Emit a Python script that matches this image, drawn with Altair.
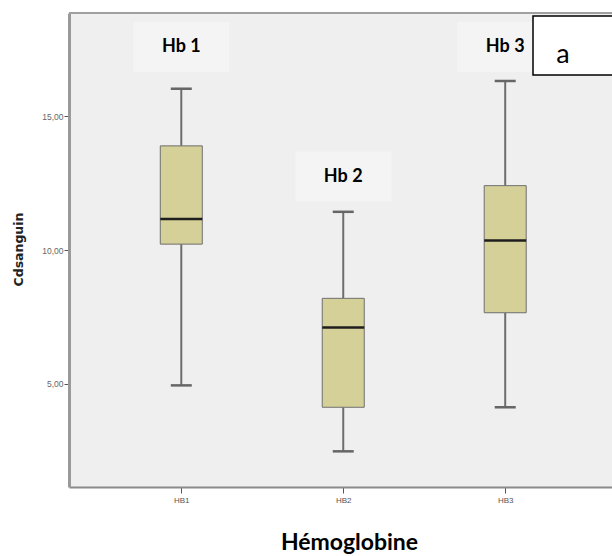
import altair as alt
import pandas as pd

# ---- data ----
groups = ["HB1", "HB2", "HB3"]
group_idx = [1, 2, 3]
whisker_low = [4.93, 2.46, 4.11]
q1 = [10.22, 4.11, 7.65]
median = [11.16, 7.10, 10.36]
q3 = [13.90, 8.19, 12.41]
whisker_high = [16.04, 11.43, 16.33]
label_text = ["Hb 1", "Hb 2", "Hb 3"]
label_y = [17.60, 12.75, 17.60]
panel_letter = ["a"]
y_ticks = [5, 10, 15]

df = pd.DataFrame({
    "idx": group_idx, "grp": groups, "lo": whisker_low, "q1": q1,
    "med": median, "q3": q3, "hi": whisker_high,
    "lab": label_text, "laby": label_y,
})

W, H = 543, 474
xdom = [0.3376, 3.6285]
ydom = [1.124, 18.876]

label_expr = "[" + ",".join(f"'{g}'" for g in groups) + "][datum.value - 1]"

x_enc = alt.X("idx:Q", scale=alt.Scale(domain=xdom, nice=False, zero=False),
              axis=alt.Axis(values=group_idx, labelExpr=label_expr, title="Hémoglobine",
                            grid=False, domainColor="#8a8a8a", domainWidth=2,
                            tickColor="#555555", tickSize=6, tickWidth=1,
                            labelFont="Liberation Sans", labelFontSize=8, labelColor="#555555",
                            labelPadding=3,
                            titleFont="Lato", titleFontSize=23, titleFontWeight="bold",
                            titleColor="#000000", titleX=280, titleY=55,
                            titleBaseline="middle", titleAlign="center"))
y_enc = alt.Y("lo:Q", scale=alt.Scale(domain=ydom, nice=False, zero=False),
              axis=alt.Axis(values=y_ticks,
                            labelExpr="replace(format(datum.value, '.2f'), '.', ',')",
                            title="Cdsanguin", grid=False, domainColor="#9a9a9a", domainWidth=3,
                            tickColor="#555555", tickSize=5, tickWidth=1,
                            labelFont="Liberation Sans", labelFontSize=8.5, labelColor="#666666",
                            labelPadding=1,
                            titleFont="DejaVu Sans", titleFontSize=12.5, titleFontWeight="bold",
                            titleColor="#222222", titleX=-51, titleY=236, titleAngle=-90,
                            titleBaseline="middle", titleAlign="center"))

base = alt.Chart(df)

whisk_low = base.mark_rule(color="#6d6d6d", strokeWidth=2).encode(x=x_enc, y=y_enc, y2="q1:Q")
whisk_high = base.mark_rule(color="#6d6d6d", strokeWidth=2).encode(x="idx:Q", y="q3:Q", y2="hi:Q")
box = base.mark_bar(width=42, color="#d4d098", stroke="#6f6f6f", strokeWidth=1).encode(
    x="idx:Q", y="q1:Q", y2="q3:Q")
med = base.mark_tick(orient="horizontal", size=42, thickness=2.5, color="#1e1e1e", opacity=1).encode(
    x="idx:Q", y="med:Q")
cap_lo = base.mark_tick(orient="horizontal", size=21, thickness=2.5, color="#666666", opacity=1).encode(
    x="idx:Q", y="lo:Q")
cap_hi = base.mark_tick(orient="horizontal", size=21, thickness=2.5, color="#666666", opacity=1).encode(
    x="idx:Q", y="hi:Q")

patch = base.mark_point(shape="M-1,-0.52H1V0.52H-1Z", size=9216, filled=True,
                        color="#f4f4f4", opacity=1, strokeWidth=0).encode(
    x="idx:Q", y="laby:Q")
labels = base.mark_text(font="Lato", fontSize=18, fontWeight="bold", color="#000000",
                        align="center", baseline="middle").encode(
    x="idx:Q", y="laby:Q", text="lab:N")

dummy = pd.DataFrame({"t": panel_letter})
top_rule = alt.Chart(dummy).mark_rule(color="#a0a0a0", strokeWidth=2).encode(
    x=alt.value(0), x2=alt.value(W + 5), y=alt.value(0))
letter_box = alt.Chart(dummy).mark_rect(fill="white", stroke="black", strokeWidth=1.5).encode(
    x=alt.value(464), x2=alt.value(W + 20), y=alt.value(3), y2=alt.value(62))
letter = alt.Chart(dummy).mark_text(font="Lato", fontSize=27, color="#000000",
                                    align="center", baseline="alphabetic").encode(
    x=alt.value(494), y=alt.value(50), text="t:N")

chart = alt.layer(
    patch, whisk_low, whisk_high, box, med, cap_lo, cap_hi, labels,
    top_rule, letter_box, letter
).properties(
    width=W, height=H,
    padding={"left": 69, "top": 13, "right": 0, "bottom": 69},
    autosize=alt.AutoSizeParams(type="none"),
    background="white",
).configure_view(fill="#efefef", stroke=None)

chart.save("out.html", embed_options={"renderer": "svg", "actions": False})
